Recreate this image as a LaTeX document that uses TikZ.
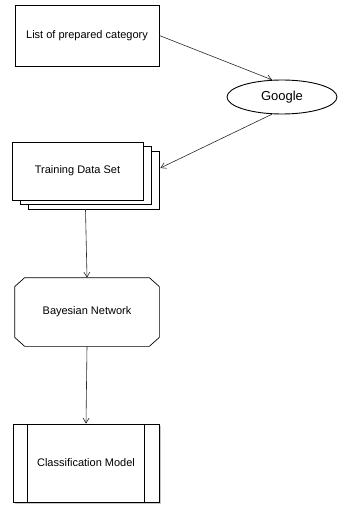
\documentclass[tikz,border=0pt]{standalone}
\usepackage{fontspec}
\setmainfont{Liberation Sans}
\usepackage{tikz}
\usetikzlibrary{shapes, arrows.meta, shadows, calc}
\definecolor{edgegray}{RGB}{40, 40, 40}

\begin{document}
\begin{tikzpicture}[x=1pt, y=-1pt,
  box/.style={draw=black, fill=white, line width=0.7pt, font=\fontsize{11}{13}\selectfont},
  flow/.style={draw=edgegray, line width=0.6pt, -{Straight Barb[length=5pt, width=6pt]}}]
  \useasboundingbox (0, 0) rectangle (338, 505);

  % Category list and search engine
  \node[box, rectangle, minimum width=144pt, minimum height=61pt] (catlist) at (87, 35.5) {List of prepared category};
  \node[box, ellipse, minimum width=110pt, minimum height=34pt, line width=0.9pt, font=\fontsize{13}{15}\selectfont] (google) at (282, 97) {Google};

  % Stacked training documents
  \node[box, rectangle, minimum width=131pt, minimum height=58pt,
        copy shadow={shadow xshift=16pt, shadow yshift=-9pt},
        copy shadow={shadow xshift=8pt, shadow yshift=-4.5pt}] (trainset) at (77.5, 171) {Training Data Set};

  % Learner, cut corners drawn round the node
  \node[box, draw=none, rectangle, minimum width=144pt, minimum height=68pt] (bayesnet) at (87, 312) {Bayesian Network};
  \draw[line width=0.7pt] ([xshift=10pt]bayesnet.north west) -- ([xshift=-10pt]bayesnet.north east)
    -- ([yshift=-9pt]bayesnet.north east) -- ([yshift=9pt]bayesnet.south east)
    -- ([xshift=-10pt]bayesnet.south east) -- ([xshift=10pt]bayesnet.south west)
    -- ([yshift=9pt]bayesnet.south west) -- ([yshift=-9pt]bayesnet.north west) -- cycle;

  % Result
  \node[box, rectangle, minimum width=146pt, minimum height=78pt,
        drop shadow={shadow xshift=1.5pt, shadow yshift=-2pt, opacity=0.45}] (classmodel) at (86, 463) {Classification Model};
  \draw[line width=0.7pt] ([xshift=15pt]classmodel.north west) -- ([xshift=15pt]classmodel.south west);
  \draw[line width=0.7pt] ([xshift=-15pt]classmodel.north east) -- ([xshift=-15pt]classmodel.south east);

  % Connectors
  \draw[flow] (catlist.east) -- (google.120);
  \draw[flow] (google.240) -- ([shift={(17pt,3pt)}]trainset.east);
  \draw[flow] ([shift={(8pt,-9pt)}]trainset.south) -- (bayesnet.north);
  \draw[flow] (bayesnet.south) -- (classmodel.north);
\end{tikzpicture}
\end{document}
